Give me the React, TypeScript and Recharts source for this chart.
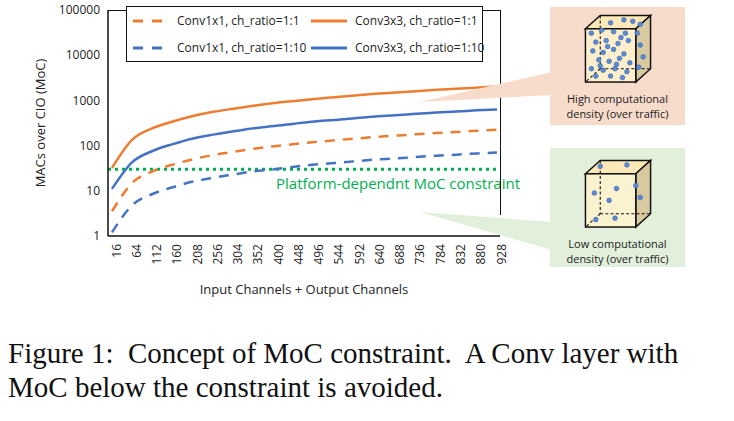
import { CartesianGrid, Label, Line, LineChart, ReferenceLine, XAxis, YAxis } from "recharts";

const channels = [16, 64, 112, 160, 208, 256, 304, 352, 400, 448, 496, 544, 592, 640, 688, 736, 784, 832, 880, 928];
const conv1x1r1 = [3.5, 15, 27, 38, 50, 62, 73, 85, 97, 108, 120, 131, 143, 155, 166, 178, 190, 201, 213, 225];
const conv3x3r1 = [32, 135, 243, 342, 450, 558, 657, 765, 873, 972, 1080, 1179, 1287, 1395, 1494, 1602, 1710, 1809, 1917, 2025];
const conv1x1r10 = [1.2, 4.8, 8.5, 12, 16, 19.5, 23, 27, 30, 34, 38, 41, 45, 49, 52, 56, 60, 63, 67, 70];
const conv3x3r10 = [11, 43, 76, 108, 144, 175, 207, 243, 270, 306, 342, 369, 405, 441, 468, 504, 540, 567, 603, 630];
const yTicks = [1, 10, 100, 1000, 10000, 100000];
const constraint = 30;

const data = channels.map((c, i) => ({
  c,
  a: conv1x1r1[i],
  b: conv3x3r1[i],
  d: conv1x1r10[i],
  e: conv3x3r10[i],
}));

const ORANGE = "#ed7d31";
const BLUE = "#4472c4";
const GREEN = "#00b050";
const font = "'Open Sans', 'Noto Sans', sans-serif";

const denseDots = [
  [14, 30], [28, 26], [44, 28], [60, 30], [20, 42], [34, 40], [50, 44], [64, 40], [16, 54], [30, 56],
  [44, 52], [58, 58], [24, 66], [38, 68], [52, 64], [66, 70], [14, 78], [30, 80], [46, 78], [62, 82],
  [20, 88], [40, 88], [56, 90], [76, 30], [80, 46], [84, 62], [78, 76], [36, 48], [48, 72], [26, 74],
  [54, 36], [40, 16], [58, 12], [70, 14], [80, 18],
];
const sparseDots = [[26, 14], [62, 12], [18, 50], [48, 44], [38, 60], [80, 56], [20, 86], [46, 84], [74, 40]];

const Cube = ({ dots }: { dots: number[][] }) => (
  <svg width={74} height={74} viewBox="0 0 100 100">
    <polygon points="6,24 26,6 94,6 74,24" fill="#fde9b8" stroke="#111" strokeWidth={2} />
    <polygon points="74,24 94,6 94,78 74,96" fill="#d9c9a0" stroke="#111" strokeWidth={2} />
    <rect x={6} y={24} width={68} height={72} fill="#fff2cc" fillOpacity={0.85} stroke="#111" strokeWidth={2} />
    <line x1={26} y1={6} x2={26} y2={78} stroke="#111" strokeDasharray="4 3" strokeWidth={1.5} />
    <line x1={26} y1={78} x2={94} y2={78} stroke="#111" strokeDasharray="4 3" strokeWidth={1.5} />
    <line x1={26} y1={78} x2={6} y2={96} stroke="#111" strokeDasharray="4 3" strokeWidth={1.5} />
    {dots.map(([x, y], i) => (
      <circle key={i} cx={x} cy={y} r={3.2} fill="#5b8bd6" stroke="#3a66b0" strokeWidth={0.8} />
    ))}
  </svg>
);

const LegendItem = ({ color, dashed, text }: { color: string; dashed: boolean; text: string }) => (
  <div style={{ display: "flex", alignItems: "center", gap: 6 }}>
    <svg width={40} height={6}>
      <line x1={2} y1={3} x2={38} y2={3} stroke={color} strokeWidth={3} strokeDasharray={dashed ? "10 9" : undefined} />
    </svg>
    <span>{text}</span>
  </div>
);

export default function App() {
  return (
    <div style={{ position: "absolute", left: 0, top: 0, width: 734, height: 421, background: "#fff", fontFamily: font }}>
      <LineChart width={560} height={300} data={data} margin={{ top: 10, right: 60, bottom: 0, left: 8 }}>
        <CartesianGrid horizontal={false} vertical={false} />
        <XAxis
          dataKey="c"
          type="number"
          domain={[16, 928]}
          ticks={channels}
          padding={{ left: 4, right: 3 }}
          angle={-90}
          textAnchor="end"
          interval={0}
          tickLine={false}
          tickMargin={2}
          height={64}
          stroke="#111"
          strokeWidth={1.5}
          tick={{ fontSize: 12, fill: "#222" }}
        >
          <Label value="Input Channels + Output Channels" position="insideBottom" offset={6} style={{ fontSize: 13, fill: "#222" }} />
        </XAxis>
        <YAxis
          scale="log"
          domain={[1, 100000]}
          ticks={yTicks}
          allowDataOverflow
          tickLine={false}
          width={100}
          stroke="#111"
          strokeWidth={1.5}
          tick={{ fontSize: 12, fill: "#222" }}
        >
          <Label value="MACs over CIO (MoC)" angle={-90} position="insideLeft" offset={32} style={{ fontSize: 13, fill: "#222", textAnchor: "middle" }} />
        </YAxis>
        <ReferenceLine y={constraint} stroke={GREEN} strokeWidth={3} strokeDasharray="3 4" ifOverflow="visible">
          <Label value="Platform-dependnt MoC constraint" position="insideBottomRight" offset={-20} style={{ fontSize: 15, fill: GREEN }} />
        </ReferenceLine>
        <Line dataKey="a" stroke={ORANGE} strokeWidth={2.5} strokeDasharray="10 8" dot={false} type="monotone" isAnimationActive={false} />
        <Line dataKey="b" stroke={ORANGE} strokeWidth={2.5} dot={false} type="monotone" isAnimationActive={false} />
        <Line dataKey="d" stroke={BLUE} strokeWidth={2.5} strokeDasharray="10 8" dot={false} type="monotone" isAnimationActive={false} />
        <Line dataKey="e" stroke={BLUE} strokeWidth={2.5} dot={false} type="monotone" isAnimationActive={false} />
      </LineChart>

      {/* top and right frame */}
      <div style={{ position: "absolute", left: 108, top: 10, width: 392, height: 0, borderTop: "1.5px solid #111" }} />
      <div style={{ position: "absolute", left: 500, top: 10, width: 0, height: 205, borderLeft: "1.5px solid #111" }} />

      {/* legend */}
      <div
        style={{
          position: "absolute", left: 126, top: 6, width: 357, height: 56, border: "1.2px solid #111", background: "#fff",
          display: "grid", gridTemplateColumns: "178px 178px", alignContent: "space-around", fontSize: 12, color: "#222", boxSizing: "border-box", paddingLeft: 4,
        }}
      >
        <LegendItem color={ORANGE} dashed text="Conv1x1, ch_ratio=1:1" />
        <LegendItem color={ORANGE} dashed={false} text="Conv3x3, ch_ratio=1:1" />
        <LegendItem color={BLUE} dashed text="Conv1x1, ch_ratio=1:10" />
        <LegendItem color={BLUE} dashed={false} text="Conv3x3, ch_ratio=1:10" />
      </div>

      {/* callouts */}
      <svg style={{ position: "absolute", left: 0, top: 0 }} width={734} height={300}>
        <polygon points="552,72 552,95 420,102" fill="#f8dccb" />
        <polygon points="552,222 552,250 420,212" fill="#e2efda" />
      </svg>
      <div style={{ position: "absolute", left: 550, top: 7, width: 135, height: 118, background: "#f8dccb", textAlign: "center", fontSize: 11, color: "#222", lineHeight: "15px" }}>
        <div style={{ marginTop: 4, height: 80 }}><Cube dots={denseDots} /></div>
        High computational<br />density (over traffic)
      </div>
      <div style={{ position: "absolute", left: 550, top: 148, width: 135, height: 119, background: "#e2efda", textAlign: "center", fontSize: 11, color: "#222", lineHeight: "15px" }}>
        <div style={{ marginTop: 8, height: 80 }}><Cube dots={sparseDots} /></div>
        Low computational<br />density (over traffic)
      </div>

      {/* caption */}
      <div style={{ position: "absolute", left: 8, top: 336, fontFamily: "'Liberation Serif', serif", fontSize: 29, color: "#111", lineHeight: "34px", whiteSpace: "pre" }}>
        {"Figure 1:  Concept of MoC constraint.  A Conv layer with\nMoC below the constraint is avoided."}
      </div>
    </div>
  );
}
